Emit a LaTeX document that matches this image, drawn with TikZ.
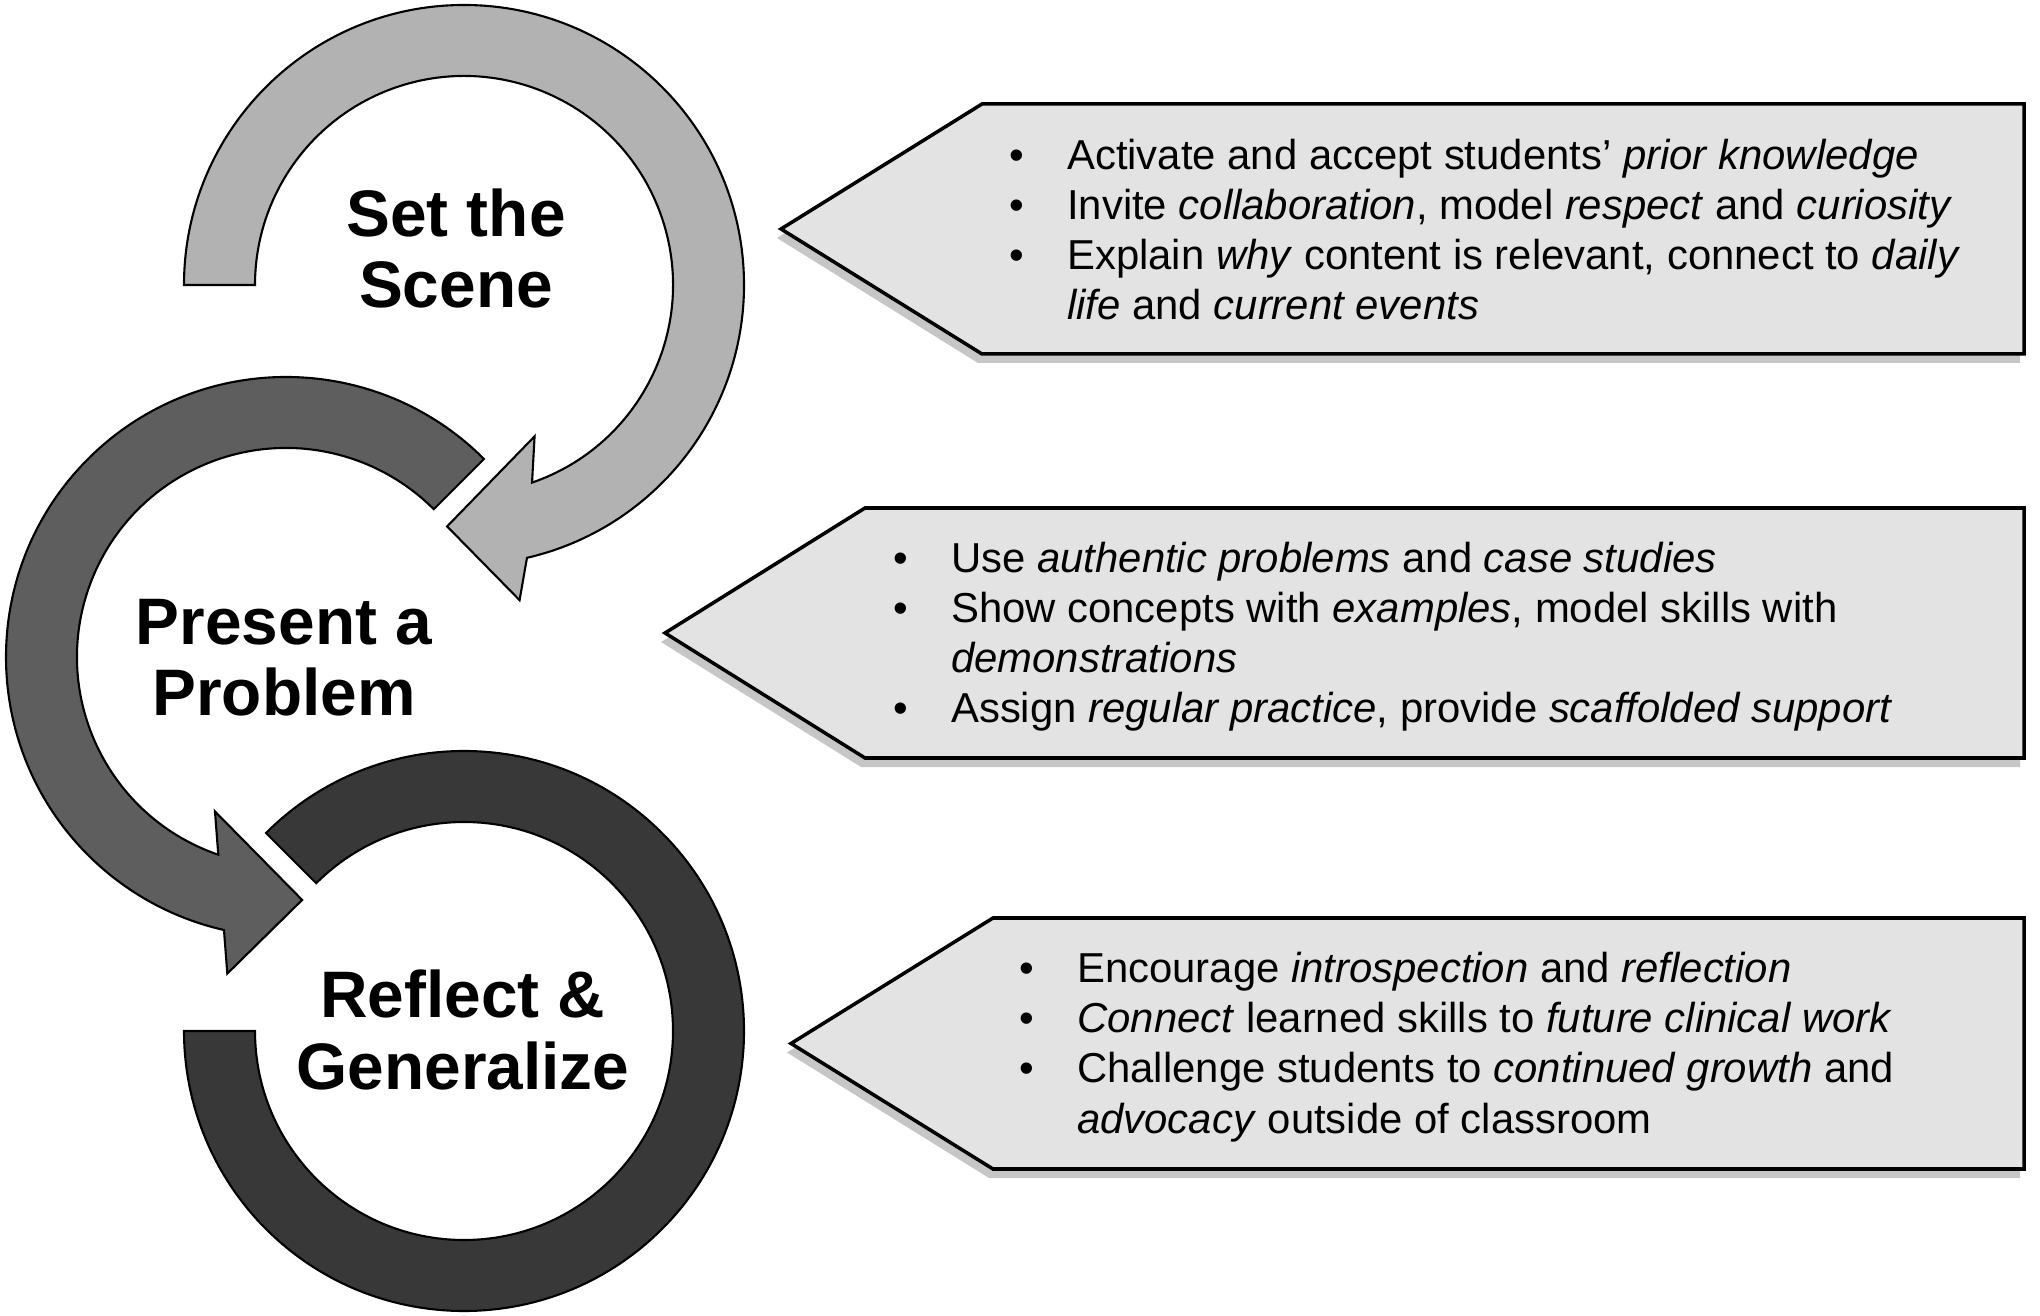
\documentclass[tikz,border=0pt]{standalone}
\usepackage{fontspec}
\setmainfont{Liberation Sans}
\usetikzlibrary{shadows}

\tikzset{
  ringScene/.style={fill=black!30,draw=black,line width=0.6pt},
  ringProblem/.style={fill=black!63,draw=black,line width=0.6pt},
  ringReflect/.style={fill=black!78,draw=black,line width=0.6pt},
  callout/.style={fill=black!11,draw=black,line width=1pt,
    drop shadow={shadow xshift=-0.04cm,shadow yshift=-0.09cm,opacity=0.45}},
  title/.style={font=\fontsize{18.7}{20.2}\selectfont\bfseries,align=center,inner sep=0pt,anchor=base},
  bullets/.style={font=\fontsize{11.9}{14.23}\selectfont,align=left,inner sep=0pt,anchor=base west},
}
\newcommand{\bul}[1]{\makebox[0.575cm][l]{\textbullet}#1}
\newcommand{\cont}{\hspace*{0.575cm}}

\begin{document}
\begin{tikzpicture}[x=0.01cm,y=0.01cm]
\useasboundingbox (0,0) rectangle (2040,1315);

% rings
\draw[ringReflect,shift={(464,284)}] (135:209) -- (135:280)
  arc[start angle=135,end angle=-180,radius=280] -- (180:209)
  arc[start angle=-180,end angle=135,radius=209] -- cycle;
\draw[ringProblem,shift={(286,658)}] (45:209) -- (45:280)
  arc[start angle=45,end angle=257.2,radius=280] -- (259.5:322) -- (273.8:243.5)
  -- (245.3:170) -- (251.1:209) arc[start angle=251.1,end angle=45,radius=209] -- cycle;
\draw[ringScene,shift={(464,1030)}] (180:209) -- (180:280)
  arc[start angle=180,end angle=-77,radius=280] -- (-80:320) -- (-94:242)
  -- (-65:167) -- (-71:209) arc[start angle=-71,end angle=180,radius=209] -- cycle;

% titles (anchored at the last baseline)
\node[title] (scene) at (456,1007) {Set the\\Scene};
\node[title] (problem) at (284,599) {Present a\\Problem};
\node[title] (reflect) at (463,226) {Reflect \&\\Generalize};

% callouts
\draw[callout] (781,1086) -- (982,1211) -- (2024,1211) -- (2024,961) -- (982,961) -- cycle;
\draw[callout] (665,682) -- (865,807) -- (2024,807) -- (2024,557) -- (865,557) -- cycle;
\draw[callout] (791,271.5) -- (993,397) -- (2024,397) -- (2024,146) -- (993,146) -- cycle;

\node[bullets] (sceneText) at (1009,995) {\bul{Activate and accept students’ \textit{prior knowledge}}\\
  \bul{Invite \textit{collaboration}, model \textit{respect} and \textit{curiosity}}\\
  \bul{Explain \textit{why} content is relevant, connect to \textit{daily}}\\
  \cont\textit{life} and \textit{current events}};
\node[bullets] (problemText) at (893,592) {\bul{Use \textit{authentic problems} and \textit{case studies}}\\
  \bul{Show concepts with \textit{examples}, model skills with}\\
  \cont\textit{demonstrations}\\
  \bul{Assign \textit{regular practice}, provide \textit{scaffolded support}}};
\node[bullets] (reflectText) at (1019,182) {\bul{Encourage \textit{introspection} and \textit{reflection}}\\
  \bul{\textit{Connect} learned skills to \textit{future clinical work}}\\
  \bul{Challenge students to \textit{continued growth} and}\\
  \cont\textit{advocacy} outside of classroom};
\end{tikzpicture}
\end{document}
